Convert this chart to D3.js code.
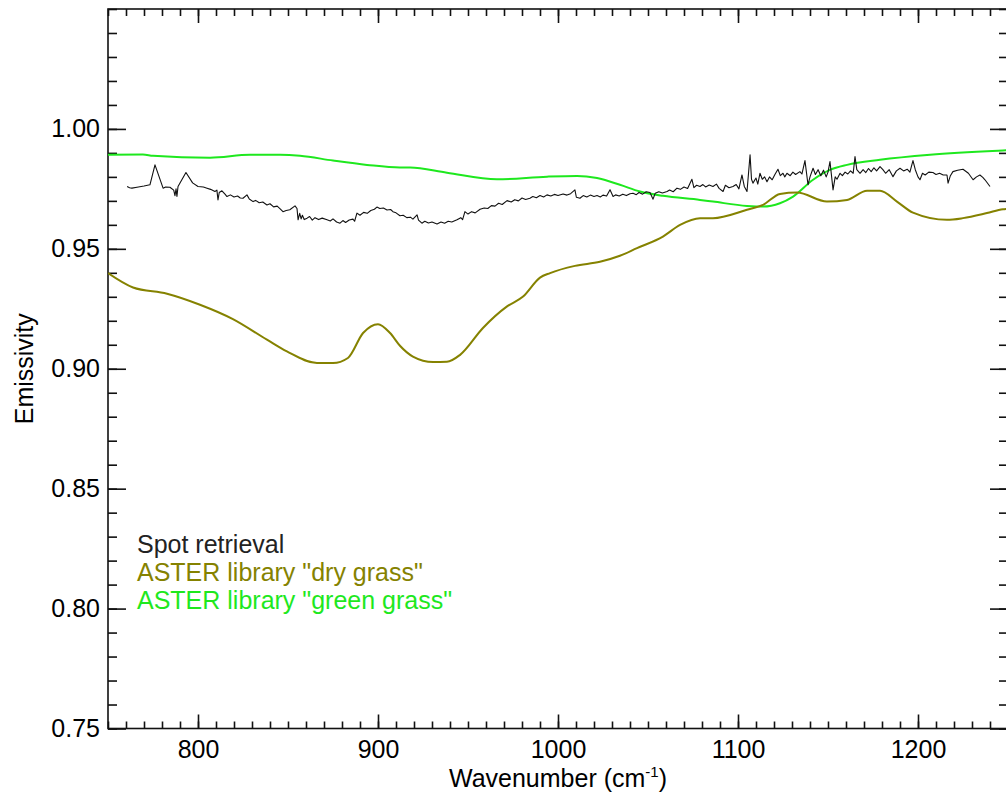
<!DOCTYPE html>
<html>
<head>
<meta charset="utf-8">
<script src="https://cdn.jsdelivr.net/npm/d3@7"></script>
<style>
  body { margin: 0; background: #fff; }
  svg text { font-family: 'Liberation Sans', Arial, Helvetica, sans-serif; }
</style>
</head>
<body>
<div id="chart-area"></div>
<script>
const width = 1006;
const height = 792;

// ASTER "green grass"
const greenWn = [750, 769.4, 775, 806.7, 828.9, 845.6, 856.7, 875, 893.9, 912.2, 917.8, 938.3, 966.1, 993.9, 1010.6, 1021.7, 1034.4, 1045.6, 1058.3, 1078.9, 1086.1, 1105, 1113.9, 1123.3, 1130.6, 1141.7, 1151.1, 1160.6, 1178.9, 1206.7, 1247.2, 1250];
const greenEm = [0.9892, 0.9893, 0.9888, 0.9880, 0.9892, 0.9892, 0.9888, 0.9868, 0.9850, 0.9839, 0.9839, 0.9817, 0.9790, 0.9801, 0.9804, 0.9795, 0.9767, 0.9739, 0.9721, 0.9704, 0.9697, 0.9679, 0.9676, 0.9690, 0.9718, 0.9788, 0.9829, 0.9850, 0.9871, 0.9892, 0.9910, 0.9911];

// ASTER "dry grass"
const dryWn = [750, 763.9, 782.8, 801.1, 819.4, 838.3, 849.4, 866.1, 875, 883.3, 891.7, 900, 906.7, 912.2, 919.4, 930.6, 938.3, 945.6, 958.3, 971.7, 980.6, 990, 995.6, 1009.4, 1023.3, 1034.4, 1043.9, 1058.3, 1067.8, 1078.9, 1086.1, 1105, 1113.9, 1123.3, 1132.8, 1149.4, 1160.6, 1171.7, 1178.9, 1188.3, 1197.2, 1216.1, 1225, 1238.3, 1247.2, 1250];
const dryEm = [0.9399, 0.9339, 0.9313, 0.9267, 0.9207, 0.9121, 0.9072, 0.9024, 0.9024, 0.9045, 0.9149, 0.9186, 0.9149, 0.9096, 0.9051, 0.9028, 0.9029, 0.9058, 0.9170, 0.9260, 0.9301, 0.9380, 0.9399, 0.9429, 0.9446, 0.9471, 0.9503, 0.9551, 0.9600, 0.9628, 0.9628, 0.9663, 0.9683, 0.9729, 0.9735, 0.9697, 0.9704, 0.9742, 0.9742, 0.9697, 0.9651, 0.9621, 0.9628, 0.9649, 0.9665, 0.9667];

// Spot retrieval
const spotWn = [760.6, 762, 763.3, 766.1, 770, 773.3, 776.1, 780.6, 782, 784.4, 786.5, 787.2, 787.8, 788.3, 788.9, 793.3, 797, 800, 803, 805, 807, 809.4, 810.5, 811.1, 811.8, 813.3, 815, 816.1, 818, 820, 822, 823.5, 825, 827.2, 828.5, 830.6, 832, 834, 836, 838.3, 840, 842, 844, 845.5, 847.2, 849, 851, 853.9, 855, 855.6, 856.5, 857.3, 858, 859, 860.6, 862, 863.5, 865, 867, 869, 871.7, 873.5, 875, 877, 878.9, 880.5, 882, 884, 886.1, 887, 888.3, 890, 892, 894, 896, 898, 899.4, 901, 903, 905, 907, 908.3, 910, 912.2, 914, 916, 918, 919.4, 921.7, 922.5, 924.4, 926, 928, 930, 932.8, 935, 937, 939, 941, 943.9, 946, 947, 948.3, 950, 952, 954, 956.7, 959, 961, 963, 965, 967, 969, 971.7, 974, 976, 978, 980, 982, 984.4, 986, 988, 990, 992, 993.9, 996, 998, 1000, 1002.8, 1005, 1007, 1009.4, 1010.2, 1012.2, 1014, 1016, 1018, 1020, 1021.7, 1023.5, 1025, 1027, 1028.9, 1030.6, 1032, 1034, 1036, 1038, 1040, 1041.7, 1043.5, 1045, 1047, 1049, 1051.1, 1052.8, 1054, 1056, 1058, 1060.6, 1062, 1064, 1066.1, 1068, 1070, 1072, 1074.4, 1075.5, 1077, 1078.9, 1080.5, 1082, 1084, 1086.1, 1088, 1089.5, 1091.7, 1093, 1095, 1097.2, 1099, 1100.5, 1102.2, 1103.5, 1105, 1106.7, 1107.5, 1108.3, 1110, 1111, 1112.2, 1113.5, 1114.8, 1116.1, 1117.5, 1119, 1120.5, 1122.2, 1123.5, 1125, 1126, 1127.2, 1129, 1130.5, 1132, 1134.4, 1135.5, 1137.2, 1138.9, 1140, 1141.7, 1143, 1144.5, 1146, 1147.5, 1149, 1150, 1151.1, 1152.8, 1154, 1155, 1156.7, 1158, 1159.5, 1161, 1162.5, 1164, 1165, 1166, 1167.8, 1169.5, 1171, 1172.5, 1174, 1175.5, 1177, 1178.9, 1180.5, 1182, 1184, 1186.1, 1188, 1190, 1192, 1194, 1195.5, 1197.2, 1198.5, 1200, 1201.1, 1202.5, 1204, 1206, 1208.3, 1210, 1212, 1214, 1216.1, 1216.7, 1218, 1219.4, 1222, 1225, 1228, 1230.6, 1232.5, 1234.4, 1236, 1237.2, 1240];
const spotEm = [0.9760, 0.9755, 0.9753, 0.9757, 0.9762, 0.9767, 0.9850, 0.9753, 0.9758, 0.9757, 0.9745, 0.9722, 0.9750, 0.9718, 0.9760, 0.9818, 0.9775, 0.9760, 0.9758, 0.9753, 0.9748, 0.9739, 0.9745, 0.9704, 0.9735, 0.9742, 0.9728, 0.9718, 0.9725, 0.9716, 0.9720, 0.9712, 0.9711, 0.9725, 0.9708, 0.9697, 0.9702, 0.9692, 0.9695, 0.9683, 0.9688, 0.9675, 0.9678, 0.9668, 0.9655, 0.9660, 0.9663, 0.9679, 0.9668, 0.9621, 0.9648, 0.9625, 0.9640, 0.9622, 0.9628, 0.9635, 0.9620, 0.9630, 0.9622, 0.9628, 0.9621, 0.9616, 0.9625, 0.9612, 0.9607, 0.9618, 0.9610, 0.9620, 0.9624, 0.9615, 0.9649, 0.9640, 0.9652, 0.9648, 0.9660, 0.9665, 0.9674, 0.9668, 0.9670, 0.9662, 0.9664, 0.9655, 0.9650, 0.9638, 0.9640, 0.9630, 0.9632, 0.9624, 0.9642, 0.9620, 0.9607, 0.9615, 0.9608, 0.9612, 0.9604, 0.9612, 0.9607, 0.9615, 0.9612, 0.9621, 0.9630, 0.9622, 0.9655, 0.9645, 0.9655, 0.9650, 0.9665, 0.9670, 0.9668, 0.9680, 0.9678, 0.9690, 0.9685, 0.9701, 0.9695, 0.9705, 0.9700, 0.9712, 0.9706, 0.9711, 0.9718, 0.9713, 0.9722, 0.9716, 0.9725, 0.9720, 0.9727, 0.9722, 0.9729, 0.9724, 0.9730, 0.9746, 0.9715, 0.9711, 0.9722, 0.9716, 0.9724, 0.9718, 0.9722, 0.9716, 0.9724, 0.9720, 0.9746, 0.9718, 0.9725, 0.9720, 0.9728, 0.9722, 0.9730, 0.9732, 0.9726, 0.9735, 0.9728, 0.9738, 0.9735, 0.9707, 0.9732, 0.9738, 0.9733, 0.9739, 0.9745, 0.9738, 0.9753, 0.9748, 0.9758, 0.9752, 0.9790, 0.9755, 0.9765, 0.9760, 0.9768, 0.9758, 0.9766, 0.9760, 0.9770, 0.9752, 0.9739, 0.9765, 0.9755, 0.9760, 0.9768, 0.9750, 0.9808, 0.9760, 0.9739, 0.9892, 0.9790, 0.9774, 0.9795, 0.9770, 0.9815, 0.9790, 0.9800, 0.9780, 0.9800, 0.9788, 0.9810, 0.9832, 0.9805, 0.9815, 0.9800, 0.9815, 0.9805, 0.9820, 0.9810, 0.9822, 0.9812, 0.9868, 0.9767, 0.9800, 0.9836, 0.9810, 0.9830, 0.9805, 0.9828, 0.9800, 0.9820, 0.9864, 0.9746, 0.9800, 0.9790, 0.9815, 0.9805, 0.9820, 0.9812, 0.9825, 0.9815, 0.9885, 0.9830, 0.9815, 0.9830, 0.9818, 0.9835, 0.9822, 0.9838, 0.9825, 0.9843, 0.9830, 0.9815, 0.9830, 0.9801, 0.9825, 0.9836, 0.9825, 0.9832, 0.9820, 0.9868, 0.9830, 0.9800, 0.9788, 0.9815, 0.9808, 0.9820, 0.9818, 0.9810, 0.9815, 0.9808, 0.9808, 0.9774, 0.9805, 0.9822, 0.9828, 0.9832, 0.9815, 0.9788, 0.9800, 0.9808, 0.9798, 0.9788, 0.9760];

const xTicks = [800, 900, 1000, 1100, 1200];
const yTicks = [0.75, 0.80, 0.85, 0.90, 0.95, 1.00];
const legendLabels = ['Spot retrieval', 'ASTER library "dry grass"', 'ASTER library "green grass"'];
const legendColors = ['#222222', '#858200', '#1ee81e'];

const plot = { left: 108, right: 1008, top: 9, bottom: 728.5 };

let svg = d3.select('#chart-area').append('svg')
    .attr('width', width)
    .attr('height', height);

let x = d3.scaleLinear().domain([750, 1250]).range([plot.left, plot.right]);
let y = d3.scaleLinear().domain([0.75, 1.05]).range([plot.bottom, plot.top]);

let minorX = d3.range(750, 1251, 10);
let minorY = d3.range(75, 106, 1).map((d) => d / 100);

function styleAxis(g) {
    g.select('.domain').remove();
    g.selectAll('line').attr('stroke', '#111').attr('stroke-width', 1.6);
    g.selectAll('text').attr('fill', '#000').attr('font-size', '25px');
}

// minor ticks
svg.append('g').attr('transform', `translate(0, ${plot.bottom})`)
    .call(d3.axisBottom(x).tickValues(minorX).tickSize(-7).tickFormat(''))
    .call(styleAxis);
svg.append('g').attr('transform', `translate(0, ${plot.top})`)
    .call(d3.axisTop(x).tickValues(minorX).tickSize(-7).tickFormat(''))
    .call(styleAxis);
svg.append('g').attr('transform', `translate(${plot.left}, 0)`)
    .call(d3.axisLeft(y).tickValues(minorY).tickSize(-9).tickFormat(''))
    .call(styleAxis);
svg.append('g').attr('transform', `translate(${plot.right}, 0)`)
    .call(d3.axisRight(y).tickValues(minorY).tickSize(-9).tickFormat(''))
    .call(styleAxis);

// major ticks
svg.append('g').attr('transform', `translate(0, ${plot.bottom})`)
    .call(d3.axisBottom(x).tickValues(xTicks).tickSize(-14).tickPadding(12).tickFormat(d3.format('d')))
    .call(styleAxis);
svg.append('g').attr('transform', `translate(0, ${plot.top})`)
    .call(d3.axisTop(x).tickValues(xTicks).tickSize(-14).tickFormat(''))
    .call(styleAxis);
svg.append('g').attr('transform', `translate(${plot.left}, 0)`)
    .call(d3.axisLeft(y).tickValues(yTicks).tickSize(-18).tickPadding(8).tickFormat(d3.format('.2f')))
    .call(styleAxis);
svg.append('g').attr('transform', `translate(${plot.right}, 0)`)
    .call(d3.axisRight(y).tickValues(yTicks).tickSize(-18).tickFormat(''))
    .call(styleAxis);

svg.append('rect')
    .attr('x', plot.left).attr('y', plot.top)
    .attr('width', plot.right - plot.left).attr('height', plot.bottom - plot.top)
    .attr('fill', 'none').attr('stroke', '#111').attr('stroke-width', 1.6);

svg.append('clipPath').attr('id', 'clip').append('rect')
    .attr('x', plot.left).attr('y', plot.top)
    .attr('width', plot.right - plot.left).attr('height', plot.bottom - plot.top);

let line = d3.line().x((d) => x(d[0])).y((d) => y(d[1]));

let series = [
    { wn: greenWn, em: greenEm, color: legendColors[2], w: 2, curve: d3.curveMonotoneX },
    { wn: dryWn, em: dryEm, color: legendColors[1], w: 2, curve: d3.curveMonotoneX },
    { wn: spotWn, em: spotEm, color: '#111', w: 1.1, curve: d3.curveLinear }
];

series.forEach((s) => {
    svg.append('path')
        .datum(d3.zip(s.wn, s.em))
        .attr('clip-path', 'url(#clip)')
        .attr('fill', 'none')
        .attr('stroke', s.color)
        .attr('stroke-width', s.w)
        .attr('stroke-linejoin', 'round')
        .attr('d', line.curve(s.curve));
});

// legend
let legendBaselines = [553, 581, 609];
svg.selectAll('.legend').data(legendLabels).enter().append('text')
    .attr('class', 'legend')
    .attr('x', 137)
    .attr('y', (d, i) => legendBaselines[i])
    .attr('font-size', '25px')
    .attr('fill', (d, i) => legendColors[i])
    .text((d) => d);

// axis labels
let xl = svg.append('text')
    .attr('x', 558)
    .attr('y', 787)
    .attr('font-size', '25px')
    .attr('text-anchor', 'middle')
    .attr('fill', '#000');
xl.append('tspan').text('Wavenumber (cm');
xl.append('tspan').attr('font-size', '15px').attr('dy', -10).text('-1');
xl.append('tspan').attr('dy', 10).text(')');

svg.append('text')
    .attr('transform', `translate(33, ${(plot.top + plot.bottom) / 2}) rotate(-90)`)
    .attr('font-size', '25px')
    .attr('text-anchor', 'middle')
    .attr('fill', '#000')
    .text('Emissivity');
</script>
</body>
</html>
